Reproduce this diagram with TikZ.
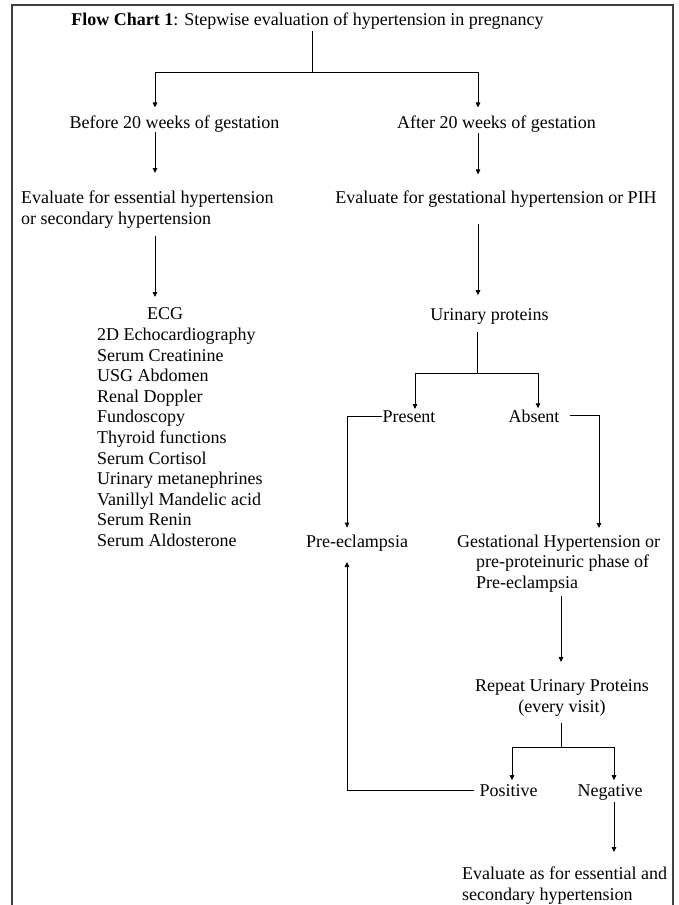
\documentclass[tikz,border=0pt]{standalone}
\usepackage{fontspec}
\setmainfont{Liberation Serif}
\usetikzlibrary{arrows.meta}

\tikzset{
  line/.style={black, line width=1pt},
  arr/.style={line, -{Triangle[length=5pt,width=4.5pt]}},
}

\begin{document}
\begin{tikzpicture}[x=1pt,y=1pt]
  \tikzstyle{every node}+=[inner sep=0pt, font=\fontsize{18}{20.6}\selectfont]
  \useasboundingbox (0,0) rectangle (679,-905);
  \draw [black!75, line width=1.2pt] (12,-905) |- (673,-5) -- (673,-905);
  % texts
  \draw (307.5,-25) node [anchor=base] (title) {\textbf{Flow Chart 1}: Stepwise evaluation of hypertension in pregnancy};
  \draw (174.5,-128) node [anchor=base] (before) {Before 20 weeks of gestation};
  \draw (496.5,-128) node [anchor=base] (after) {After 20 weeks of gestation};
  \draw (21,-190.7) node [anchor=north west, align=left] (evalA) {Evaluate for essential hypertension\\or secondary hypertension};
  \draw (496,-203) node [anchor=base] (evalB) {Evaluate for gestational hypertension or PIH};
  \draw (97,-307.8) node [anchor=north west, align=left] (tests) {\hspace*{50pt}ECG\\2D Echocardiography\\Serum Creatinine\\USG Abdomen\\Renal Doppler\\Fundoscopy\\Thyroid functions\\Serum Cortisol\\Urinary metanephrines\\Vanillyl Mandelic acid\\Serum Renin\\Serum Aldosterone};
  \draw (489.5,-320) node [anchor=base] (urine) {Urinary proteins};
  \draw (409,-422) node [anchor=base] (present) {Present};
  \draw (534,-422) node [anchor=base] (absent) {Absent};
  \draw (357,-547) node [anchor=base] (preecl) {Pre-eclampsia};
  \draw (457,-534.7) node [anchor=north west, align=left] (gesthtn) {Gestational Hypertension or\\\hspace*{19pt}pre-proteinuric phase of\\\hspace*{19pt}Pre-eclampsia};
  \draw (562,-679.7) node [anchor=north, align=center] (repeatup) {Repeat Urinary Proteins\\(every visit)};
  \draw (508.5,-796) node [anchor=base] (positive) {Positive};
  \draw (610,-796) node [anchor=base] (negative) {Negative};
  \draw (462,-866.7) node [anchor=north west, align=left] (evalC) {Evaluate as for essential and\\secondary hypertension};
  % joints and columns
  \coordinate (split) at (312,-72);
  \coordinate (colL) at (155,0);
  \coordinate (colR) at (478,0);
  \coordinate (split2) at (477,-373);
  \coordinate (forkP) at (415,-373);
  \coordinate (forkA) at (538,-373);
  \coordinate (colP) at (347,0);
  \coordinate (colA) at (599,0);
  \coordinate (colG) at (561,0);
  \coordinate (split3) at (561,-747);
  \coordinate (forkPos) at (512,-747);
  \coordinate (forkNeg) at (614,-747);
  % connectors
  \draw [line, shorten <=2pt] (title.south -| split) -- (split);
  \draw [arr, shorten >=7.7pt] (split) -| (colL |- before.north);
  \draw [arr, shorten >=7.7pt] (split) -| (colR |- after.north);
  \draw [arr, shorten >=17.7pt] (before.south -| colL) -- (evalA.north -| colL);
  \draw [arr, shorten <=1pt, shorten >=15.7pt] (after.south -| colR) -- (evalB.north -| colR);
  \draw [arr, shorten <=8pt, shorten >=10.8pt] (evalA.south -| colL) -- (tests.north -| colL);
  \draw [arr, shorten <=17pt, shorten >=12.7pt] (evalB.south -| colR) -- (urine.north -| colR);
  \draw [line, shorten <=8pt] (urine.south -| split2) -- (split2);
  \draw [arr, shorten >=1pt] (split2) -| (forkP |- present.north);
  \draw [arr, shorten >=1pt] (split2) -| (forkA |- absent.north);
  \draw [arr, shorten >=6.7pt] (present.west) -| (colP |- preecl.north);
  \draw [arr, shorten <=10pt, shorten >=6.7pt] (absent.east) -| (colA |- gesthtn.north);
  \draw [arr, shorten <=3pt, shorten >=17.7pt] (gesthtn.south -| colG) -- (repeatup.north -| colG);
  \draw [line, shorten <=6pt] (repeatup.south -| split3) -- (split3);
  \draw [arr, shorten >=3.7pt] (split3) -| (forkPos |- positive.north);
  \draw [arr, shorten >=3.7pt] (split3) -| (forkNeg |- negative.north);
  \draw [arr, shorten <=5pt, shorten >=11pt] (positive.west) -| (colP |- preecl.south);
  \draw [arr, shorten <=2pt, shorten >=14.7pt] (negative.south -| forkNeg) -- (evalC.north -| forkNeg);
\end{tikzpicture}
\end{document}
